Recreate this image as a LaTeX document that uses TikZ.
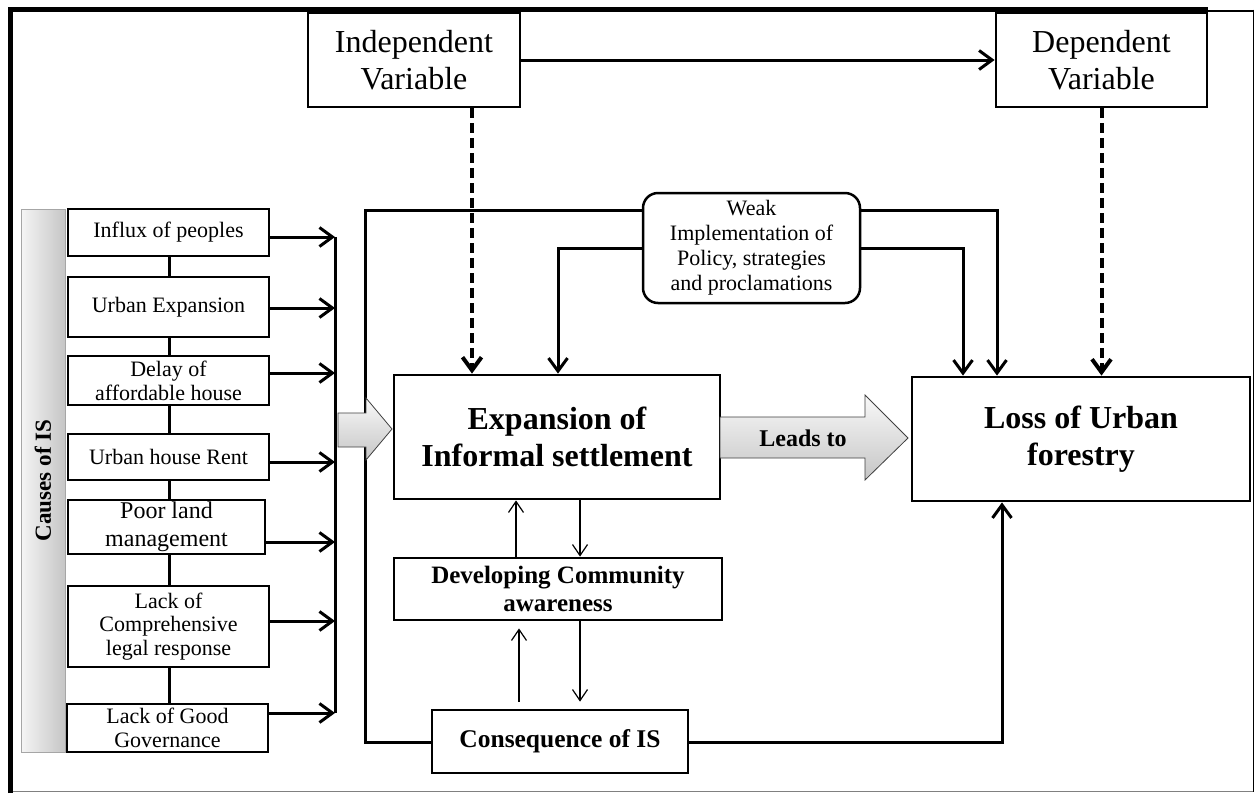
\documentclass[tikz,border=0pt]{standalone}
\usepackage{fontspec}
\setmainfont{Liberation Serif}
\usetikzlibrary{arrows.meta,calc}
\newcommand{\fsz}[2]{\fontsize{#1}{#2}\selectfont}
\begin{document}
\begin{tikzpicture}[x=1pt,y=-1pt,
  box/.style={draw, line width=2.8pt, inner sep=0pt, align=center},
  con/.style={line width=3pt},
  arr/.style={line width=3pt, -{Straight Barb[length=13pt,width=19pt]}},
  darr/.style={line width=4pt, dash pattern=on 10pt off 5pt, -{Straight Barb[length=13pt,width=19pt]}},
  tarr/.style={line width=1.2pt, -{Straight Barb[length=11pt,width=15pt]}},
  garrow/.style={draw=black!75, line width=0.8pt, top color=gray!5, bottom color=gray!45},
  regtxt/.style={font=\fsz{22}{24}},
  bigtxt/.style={font=\fsz{32}{37}},
  bigbold/.style={font=\bfseries\fsz{32}{37}},
  midbold/.style={font=\bfseries\fsz{25}{28}}
]
\useasboundingbox (0,0) rectangle (1255,793);
\fill[white] (0,0) rectangle (1255,793);

% frame
\draw[gray, line width=1pt] (10,791.8) -- (1253,791.8);
\draw[black, line width=1.5pt] (1253.3,9.5) -- (1253.3,792);
\draw[black, line width=1.5pt] (1205,11) -- (1254,11);
\draw[line width=5pt] (10.5,793) -- (10.5,9.8) -- (1208,9.8);

% causes bar
\path[left color=gray!8, right color=gray!45, draw=gray!70, line width=0.8pt] (21,209) rectangle (65,752);
\node[rotate=90, font=\bfseries\fsz{23}{26}] (causes) at (43,480.5) {Causes of IS};

% left boxes
\node[box, regtxt, minimum width=201pt, minimum height=47pt] (c1) at (168.5,232.5) {Influx of peoples};
\node[box, regtxt, minimum width=201pt, minimum height=60pt] (c2) at (168.5,307) {Urban Expansion};
\node[box, regtxt, minimum width=201pt, minimum height=49pt] (c3) at (168.5,380.5) {Delay of\\affordable house};
\node[box, regtxt, minimum width=201pt, minimum height=46pt] (c4) at (168.5,457) {Urban house Rent};
\node[box, font=\fsz{24}{28}, minimum width=197pt, minimum height=54pt] (c5) at (166.5,527) {Poor land\\management};
\node[box, font=\fsz{22}{23.5}, minimum width=201pt, minimum height=81pt] (c6) at (168.5,626.5) {Lack of\\Comprehensive\\legal response};
\node[box, regtxt, minimum width=201pt, minimum height=48pt] (c7) at (167.5,728) {Lack of Good\\Governance};

\coordinate (X) at (169,0);
\draw[con] (c1.south -| X) -- (c2.north -| X);
\draw[con] (c2.south -| X) -- (c3.north -| X);
\draw[con] (c3.south -| X) -- (c4.north -| X);
\draw[con] (c4.south -| X) -- (c5.north -| X);
\draw[con] (c5.south -| X) -- (c6.north -| X);
\draw[con] (c6.south -| X) -- (c7.north -| X);

% bus
\coordinate (a1) at (335,237);
\coordinate (a2) at (335,308);
\coordinate (a3) at (335,373);
\coordinate (a4) at (335,462);
\coordinate (a5) at (335,542);
\coordinate (a6) at (335,621);
\coordinate (a7) at (335,713);
\draw[con] (a1) -- (a7);
\draw[arr] (c1.east |- a1) -- (a1);
\draw[arr] (c2.east |- a2) -- (a2);
\draw[arr] (c3.east |- a3) -- (a3);
\draw[arr] (c4.east |- a4) -- (a4);
\draw[arr] (c5.east |- a5) -- (a5);
\draw[arr] (c6.east |- a6) -- (a6);
\draw[arr] (c7.east |- a7) -- (a7);

% top boxes
\node[box, bigtxt, minimum width=212pt, minimum height=94pt] (indep) at (414,60) {Independent\\Variable};
\node[box, bigtxt, minimum width=211pt, minimum height=94pt] (dep) at (1101.5,60) {Dependent\\Variable};
\draw[arr] (indep.east) -- (dep.west);

% main boxes
\node[box, bigbold, minimum width=326pt, minimum height=124pt] (exp) at (557,437) {Expansion of\\Informal settlement};
\node[box, bigbold, minimum width=338pt, minimum height=124pt] (loss) at (1081,439) {Loss of Urban\\forestry};
\node[box, midbold, minimum width=328pt, minimum height=62pt] (dev) at (558,589) {Developing Community\\awareness};
\node[box, font=\bfseries\fsz{25.5}{28}, minimum width=256pt, minimum height=63pt] (cons) at (560,741.5) {Consequence of IS};
\node[box, line width=2.5pt, rounded corners=15pt, font=\fsz{22}{25}, minimum width=217pt, minimum height=110pt] (weak) at (751.5,248) {Weak\\Implementation of\\Policy, strategies\\and proclamations};

% loop connectors
\coordinate (L1) at (365,210);
\coordinate (L2) at (365,742);
\coordinate (R1) at (997,210);
\coordinate (R2) at (963,248);
\coordinate (Q1) at (558,248);
\coordinate (B1) at (1002,742);
\coordinate (D1) at (472,60);
\draw[con] (weak.west |- L1) -- (L1) -- (L2) -- (cons.west |- L2);
\draw[arr] (weak.east |- R1) -- (R1) -- (loss.north -| R1);
\draw[arr] (weak.west) -- (Q1) -- (exp.north -| Q1);
\draw[arr] (weak.east) -- (R2) -- (loss.north -| R2);
\draw[arr] (cons.east |- B1) -- (B1) -- (loss.south -| B1);

% dashed
\draw[darr] (indep.south -| D1) -- (exp.north -| D1);
\draw[darr] (dep.south) -- (loss.north -| dep.south);

% thin arrows
\coordinate (T1) at (516,0);
\coordinate (T2) at (580,0);
\coordinate (T3) at (519,0);
\draw[tarr] (dev.north -| T1) -- (exp.south -| T1);
\draw[tarr] (exp.south -| T2) -- (dev.north -| T2);
\draw[tarr, shorten <=7pt, shorten >=7pt] (cons.north -| T3) -- (dev.south -| T3);
\draw[tarr, shorten >=7pt] (dev.south -| T2) -- (cons.north -| T2);

% gray block arrows
\path[garrow] (338,413) -- (366,413) -- (366,398) -- (392,429) -- (366,460) -- (366,447) -- (338,447) -- cycle;
\path[garrow] (720,417) -- (865,417) -- (865,395) -- (908,438) -- (865,480) -- (865,458) -- (720,458) -- cycle;
\node[font=\bfseries\fsz{24}{27}] (leads) at (803,438) {Leads to};
\end{tikzpicture}
\end{document}
